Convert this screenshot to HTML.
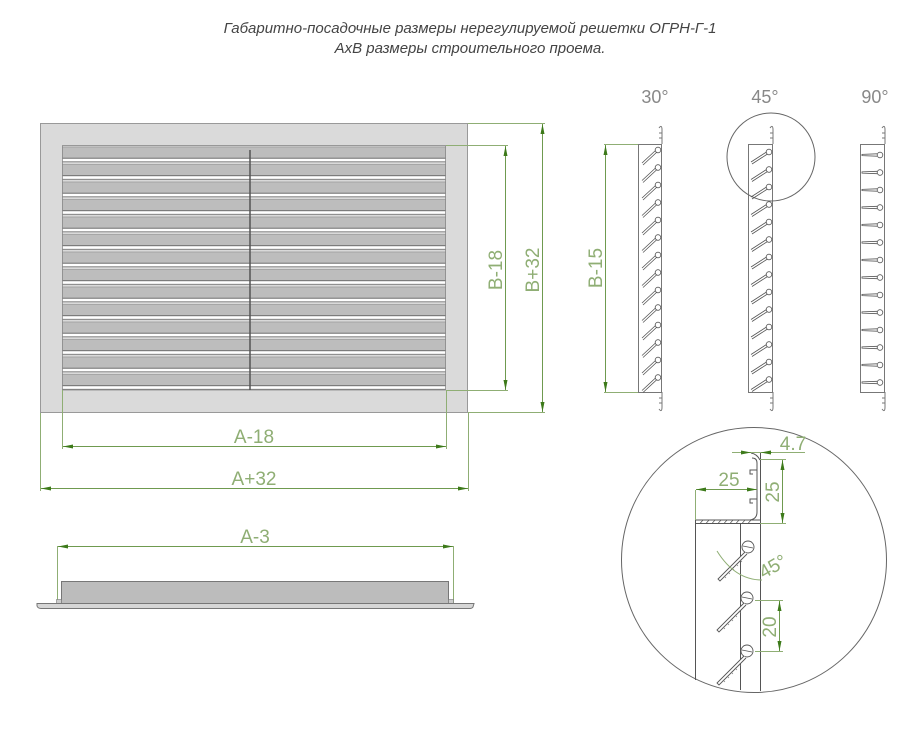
<!DOCTYPE html>
<html><head><meta charset="utf-8"><style>
html,body{margin:0;padding:0;background:#fff;}
svg{display:block}
.t{font-family:"Liberation Sans",sans-serif;}
.d{font-family:"Liberation Sans",sans-serif;fill:#8fae74;font-size:19px;}
</style></head><body>
<svg width="921" height="729" viewBox="0 0 921 729" xmlns="http://www.w3.org/2000/svg">
<defs>
<pattern id="sl" x="62" y="145" width="400" height="17.5" patternUnits="userSpaceOnUse">
<rect x="0" y="0" width="400" height="17.5" fill="#d9d9d9"/>
<rect x="0" y="2" width="400" height="11" fill="#bdbdbd"/>
<line x1="0" y1="2" x2="400" y2="2" stroke="#999" stroke-width="0.8"/>
<line x1="0" y1="13.2" x2="400" y2="13.2" stroke="#666" stroke-width="1"/>
<rect x="0" y="13.8" width="400" height="2.6" fill="#fff"/>
<line x1="0" y1="16.8" x2="400" y2="16.8" stroke="#777" stroke-width="0.8"/>
</pattern>
<marker id="a" viewBox="0 0 10 4" refX="10" refY="2" markerWidth="10" markerHeight="4" orient="auto-start-reverse" markerUnits="userSpaceOnUse"><path d="M0,0 L10,2 L0,4z" fill="#3d7a1a"/></marker>
<g id="l30"><circle cx="0" cy="0" r="2.8" fill="#fff" stroke="#555" stroke-width="0.8"/><path d="M-1,2 L-15,15 M-2.5,0.5 L-16,13" stroke="#555" stroke-width="0.8" fill="none"/></g>
<g id="l45"><circle cx="0" cy="0" r="2.8" fill="#fff" stroke="#555" stroke-width="0.8"/><path d="M-1.5,2 L-17,12 M-2.5,0 L-18,10" stroke="#555" stroke-width="0.8" fill="none"/></g>
<g id="l90"><circle cx="0" cy="0" r="2.8" fill="#fff" stroke="#555" stroke-width="0.8"/><path d="M-3,-1.2 L-18,-0.6 L-18,0.6 L-3,1.2" stroke="#555" stroke-width="0.8" fill="none"/></g>
<g id="big"><circle cx="0" cy="0" r="6" fill="#fff" stroke="#555" stroke-width="0.9"/><line x1="-5" y1="-1" x2="5" y2="1" stroke="#555" stroke-width="0.8"/><path d="M-3,5 L-30,32 L-28,34 L-1,7" fill="#fff" stroke="#555" stroke-width="0.9"/><path d="M-8,13 L-6,15 M-12,17 L-10,19 M-16,21 L-14,23 M-20,25 L-18,27 M-24,29 L-22,31" stroke="#777" stroke-width="0.6"/></g>
</defs>

<text class="t" x="470" y="33" font-size="15" font-style="italic" fill="#444" text-anchor="middle">Габаритно-посадочные размеры нерегулируемой решетки ОГРН-Г-1</text>
<text class="t" x="470" y="53" font-size="15" font-style="italic" fill="#444" text-anchor="middle">АхВ размеры строительного проема.</text>

<!-- front grille -->
<rect x="40.5" y="123.5" width="427" height="289" fill="#dadada" stroke="#999"/>
<rect x="62" y="145" width="384" height="245" fill="url(#sl)"/>
<rect x="62.5" y="145.5" width="383" height="244.5" fill="none" stroke="#888" stroke-width="0.8"/>
<line x1="250" y1="150" x2="250" y2="390" stroke="#555" stroke-width="1.5"/>

<!-- dims front -->
<g stroke="#8fae74" stroke-width="1" fill="none">
<line x1="446" y1="145.5" x2="508" y2="145.5"/><line x1="446" y1="390.5" x2="508" y2="390.5"/>
<line x1="468" y1="123.5" x2="545" y2="123.5"/><line x1="468" y1="412.5" x2="545" y2="412.5"/>
<line x1="62.5" y1="390" x2="62.5" y2="449"/><line x1="446.5" y1="390" x2="446.5" y2="449"/>
<line x1="40.5" y1="413" x2="40.5" y2="491"/><line x1="468.5" y1="413" x2="468.5" y2="491"/>
</g>
<g stroke="#6f9a4f" stroke-width="1">
<line x1="505.5" y1="146" x2="505.5" y2="390" marker-start="url(#a)" marker-end="url(#a)"/>
<line x1="542.5" y1="124" x2="542.5" y2="412" marker-start="url(#a)" marker-end="url(#a)"/>
<line x1="63" y1="446.5" x2="446" y2="446.5" marker-start="url(#a)" marker-end="url(#a)"/>
<line x1="41" y1="488.5" x2="468" y2="488.5" marker-start="url(#a)" marker-end="url(#a)"/>
<line x1="605.5" y1="145" x2="605.5" y2="392" marker-start="url(#a)" marker-end="url(#a)"/>
<line x1="58" y1="546.5" x2="453" y2="546.5" marker-start="url(#a)" marker-end="url(#a)"/>
</g>
<text class="d" transform="translate(502,270) rotate(-90)" text-anchor="middle">B-18</text>
<text class="d" transform="translate(539,270) rotate(-90)" text-anchor="middle">B+32</text>
<text class="d" transform="translate(602,268) rotate(-90)" text-anchor="middle">B-15</text>
<text class="d" x="254" y="443" text-anchor="middle">A-18</text>
<text class="d" x="254" y="485" text-anchor="middle">A+32</text>
<text class="d" x="255" y="543" text-anchor="middle">A-3</text>

<!-- bottom view -->
<line x1="57.5" y1="546" x2="57.5" y2="603" stroke="#8fae74"/>
<line x1="453.5" y1="546" x2="453.5" y2="603" stroke="#8fae74"/>
<rect x="61.5" y="581.5" width="387" height="22" fill="#bcbcbc" stroke="#777"/>
<rect x="56.5" y="599.5" width="5" height="4" fill="#ccc" stroke="#777" stroke-width="0.6"/>
<rect x="448.5" y="599.5" width="5" height="4" fill="#ccc" stroke="#777" stroke-width="0.6"/>
<path d="M37,603.5 H474 L473,607 Q472,608.5 470,608.5 H41 Q38,608.5 37,606 Z" fill="#d6d6d6" stroke="#777"/>

<!-- side views -->
<g stroke="#777" fill="none" stroke-width="1">
<text class="t" x="655" y="103" font-size="18" fill="#888" stroke="none" text-anchor="middle">30°</text>
<text class="t" x="765" y="103" font-size="18" fill="#888" stroke="none" text-anchor="middle">45°</text>
<text class="t" x="875" y="103" font-size="18" fill="#888" stroke="none" text-anchor="middle">90°</text>
<line x1="604" y1="144.5" x2="662" y2="144.5" stroke="#8fae74"/>
<line x1="604" y1="392.5" x2="662" y2="392.5" stroke="#8fae74"/>
<rect x="638.5" y="144.5" width="23" height="248"/>
<rect x="748.5" y="144.5" width="24" height="248"/>
<rect x="860.5" y="144.5" width="24" height="248"/>
<path d="M659,128 Q662,124 662,130 V144 M659,133 H662 M659,138 H662" />
<path d="M770,128 Q773,124 773,130 V144 M770,133 H773 M770,138 H773" />
<path d="M882,128 Q885,124 885,130 V144 M882,133 H885 M882,138 H885" />
<path d="M659,409 Q662,413 662,407 V392 M659,403 H662 M659,398 H662" />
<path d="M770,409 Q773,413 773,407 V392 M770,403 H773 M770,398 H773" />
<path d="M882,409 Q885,413 885,407 V392 M882,403 H885 M882,398 H885" />
<circle cx="771" cy="157" r="44" stroke="#666"/>
<circle cx="754" cy="560" r="132.5" stroke="#666"/>
</g>
<use href="#l30" x="658" y="150"/><use href="#l30" x="658" y="167.5"/><use href="#l30" x="658" y="185"/><use href="#l30" x="658" y="202.5"/><use href="#l30" x="658" y="220"/><use href="#l30" x="658" y="237.5"/><use href="#l30" x="658" y="255"/><use href="#l30" x="658" y="272.5"/><use href="#l30" x="658" y="290"/><use href="#l30" x="658" y="307.5"/><use href="#l30" x="658" y="325"/><use href="#l30" x="658" y="342.5"/><use href="#l30" x="658" y="360"/><use href="#l30" x="658" y="377.5"/>
<use href="#l45" x="769" y="152"/><use href="#l45" x="769" y="169.5"/><use href="#l45" x="769" y="187"/><use href="#l45" x="769" y="204.5"/><use href="#l45" x="769" y="222"/><use href="#l45" x="769" y="239.5"/><use href="#l45" x="769" y="257"/><use href="#l45" x="769" y="274.5"/><use href="#l45" x="769" y="292"/><use href="#l45" x="769" y="309.5"/><use href="#l45" x="769" y="327"/><use href="#l45" x="769" y="344.5"/><use href="#l45" x="769" y="362"/><use href="#l45" x="769" y="379.5"/>
<use href="#l90" x="880" y="155"/><use href="#l90" x="880" y="172.5"/><use href="#l90" x="880" y="190"/><use href="#l90" x="880" y="207.5"/><use href="#l90" x="880" y="225"/><use href="#l90" x="880" y="242.5"/><use href="#l90" x="880" y="260"/><use href="#l90" x="880" y="277.5"/><use href="#l90" x="880" y="295"/><use href="#l90" x="880" y="312.5"/><use href="#l90" x="880" y="330"/><use href="#l90" x="880" y="347.5"/><use href="#l90" x="880" y="365"/><use href="#l90" x="880" y="382.5"/>

<!-- detail -->
<g stroke="#555" fill="none" stroke-width="1">
<line x1="695.5" y1="523" x2="695.5" y2="680"/>
<line x1="740.5" y1="523" x2="740.5" y2="690"/>
<line x1="760.5" y1="452" x2="760.5" y2="691"/>
<rect x="695.5" y="520" width="65" height="3.5" fill="#fff"/>
<path d="M700,523.5 l3,-3.5 M706,523.5 l3,-3.5 M712,523.5 l3,-3.5 M718,523.5 l3,-3.5 M724,523.5 l3,-3.5 M730,523.5 l3,-3.5 M736,523.5 l3,-3.5 M742,523.5 l3,-3.5 M748,523.5 l3,-3.5" stroke-width="0.7"/>
<path d="M750,520 Q757,519 757,512 V463 Q757,458 752,458 M760,460 Q757,454 751,453"/>
<path d="M757,470 H750 V474 H753 M757,499 H750 V503 H753"/>
</g>
<use href="#big" x="748" y="547"/><use href="#big" x="747" y="598"/><use href="#big" x="747" y="651"/>
<g stroke="#8fae74" stroke-width="1" fill="none">
<line x1="732" y1="452.5" x2="805" y2="452.5"/>
<line x1="760" y1="459.5" x2="786" y2="459.5"/>
<line x1="760" y1="523.5" x2="786" y2="523.5"/>
<line x1="695.5" y1="490" x2="695.5" y2="520"/>
<line x1="755" y1="600.5" x2="783" y2="600.5"/>
<line x1="755" y1="651.5" x2="783" y2="651.5"/>
<path d="M717,551 Q735,580 762,580"/>
</g>
<g stroke="#6f9a4f" stroke-width="1">
<line x1="743" y1="452.5" x2="751" y2="452.5" marker-end="url(#a)"/>
<line x1="772" y1="452.5" x2="761" y2="452.5" marker-end="url(#a)"/>
<line x1="696" y1="489.5" x2="757" y2="489.5" marker-start="url(#a)" marker-end="url(#a)"/>
<line x1="782.5" y1="460" x2="782.5" y2="523" marker-start="url(#a)" marker-end="url(#a)"/>
<line x1="779.5" y1="601" x2="779.5" y2="651" marker-start="url(#a)" marker-end="url(#a)"/>
</g>
<text class="d" x="793" y="450" text-anchor="middle" font-size="16">4.7</text>
<text class="d" x="729" y="486" text-anchor="middle" font-size="17">25</text>
<text class="d" transform="translate(779,492) rotate(-90)" text-anchor="middle" font-size="17">25</text>
<text class="d" transform="translate(776,627) rotate(-90)" text-anchor="middle" font-size="17">20</text>
<text class="d" transform="translate(776,572) rotate(-30)" text-anchor="middle" font-size="17">45°</text>
</svg>
</body></html>
